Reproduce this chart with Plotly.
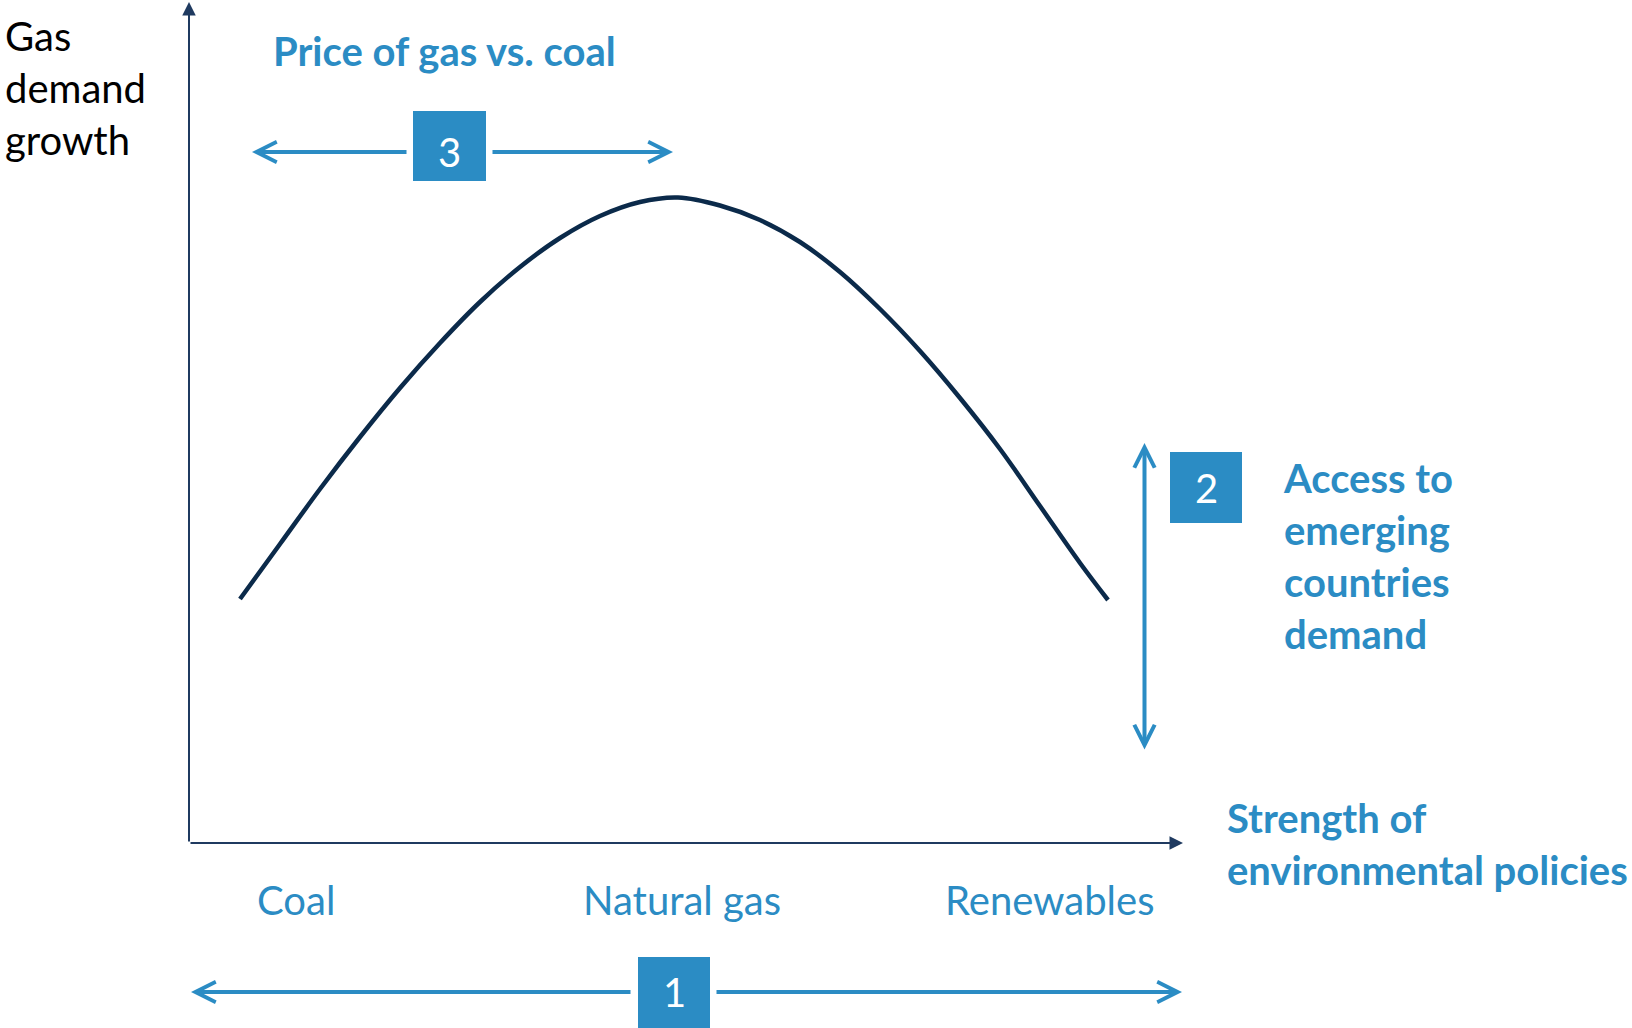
import plotly.graph_objects as go

# ---- data (units: 1 = distance along the diagram axes) ----
curve_x = [0.51, 0.91, 1.31, 1.71, 2.11, 2.51, 2.91, 3.31, 3.71, 4.11, 4.51, 4.89,
           5.31, 5.71, 6.11, 6.51, 6.91, 7.31, 7.71, 8.11, 8.51, 8.91, 9.19]
curve_y = [2.44, 2.99, 3.54, 4.06, 4.55, 5.00, 5.41, 5.76, 6.05, 6.27, 6.41, 6.455,
           6.375, 6.23, 6.01, 5.71, 5.34, 4.92, 4.45, 3.94, 3.37, 2.80, 2.43]

category_labels = ["Coal", "Natural gas", "Renewables"]
category_x = [1.07, 4.93, 8.60]

y_axis_title = "Gas<br>demand<br>growth"
x_axis_title = "Strength of<br>environmental policies"
driver_labels = ["Strength of environmental policies", "Access to<br>emerging<br>countries<br>demand", "Price of gas vs. coal"]
driver_numbers = ["1", "2", "3"]

BLUE = "#2B8CC4"
NAVY = "#0B2A4A"
AXIS = "#1F3A60"
FONT = "Lato"
FS = 40

fig = go.Figure()
fig.add_trace(go.Scatter(x=curve_x, y=curve_y, mode="lines",
                         line=dict(color=NAVY, width=4.5, shape="spline", smoothing=1.0),
                         hoverinfo="skip", showlegend=False))

ann = []
# axes with arrows
ann.append(dict(x=0, y=8.41, ax=0, ay=0, xref="x", yref="y", axref="x", ayref="y",
                showarrow=True, arrowhead=2, arrowwidth=2, arrowsize=1.35, arrowcolor=AXIS, text=""))
ann.append(dict(x=9.94, y=0, ax=0, ay=0, xref="x", yref="y", axref="x", ayref="y",
                showarrow=True, arrowhead=2, arrowwidth=2, arrowsize=1.35, arrowcolor=AXIS, text=""))

def blue_arrow(x, y, ax, ay, side="end"):
    return dict(x=x, y=y, ax=ax, ay=ay, xref="x", yref="y", axref="x", ayref="y",
                showarrow=True, arrowhead=5, arrowwidth=4, arrowsize=1, arrowcolor=BLUE,
                arrowside=side, text="")

# driver 3: horizontal arrow at top
ann.append(blue_arrow(0.63, 6.91, 2.19, 6.91))
ann.append(blue_arrow(4.84, 6.91, 3.02, 6.91))
# driver 1: horizontal arrow at bottom
ann.append(blue_arrow(0.02, -1.49, 4.43, -1.49))
ann.append(blue_arrow(9.93, -1.49, 5.26, -1.49))
# driver 2: vertical double arrow
ann.append(blue_arrow(9.555, 4.00, 9.555, 0.92, side="end+start"))

shapes = [
    dict(type="rect", xref="x", yref="y", x0=2.24, x1=2.97, y0=6.62, y1=7.32, fillcolor=BLUE, line=dict(width=0)),
    dict(type="rect", xref="x", yref="y", x0=9.81, x1=10.53, y0=3.20, y1=3.91, fillcolor=BLUE, line=dict(width=0)),
    dict(type="rect", xref="x", yref="y", x0=4.49, x1=5.21, y0=-2.5, y1=-1.14, fillcolor=BLUE, line=dict(width=0)),
]

num_pos = [(4.85, -1.49), (10.17, 3.555), (2.605, 6.91)]
for n, (nx, ny) in zip(driver_numbers, num_pos):
    ann.append(dict(x=nx, y=ny, xref="x", yref="y", text=n, showarrow=False,
                    font=dict(family=FONT, size=40, color="white"), xanchor="center", yanchor="middle"))

# texts
ann.append(dict(x=-1.86, y=7.55, xref="x", yref="y", text=y_axis_title, showarrow=False, align="left",
                font=dict(family=FONT, size=FS, color="black"), xanchor="left", yanchor="middle"))
ann.append(dict(x=0.82, y=7.92, xref="x", yref="y", text="<b>" + driver_labels[2] + "</b>", showarrow=False,
                font=dict(family=FONT, size=FS, color=BLUE), xanchor="left", yanchor="middle"))
ann.append(dict(x=10.92, y=2.87, xref="x", yref="y", text="<b>" + driver_labels[1] + "</b>", showarrow=False,
                align="left", font=dict(family=FONT, size=FS, color=BLUE), xanchor="left", yanchor="middle"))
ann.append(dict(x=10.36, y=-0.01, xref="x", yref="y", text="<b>" + x_axis_title + "</b>", showarrow=False,
                align="left", font=dict(family=FONT, size=FS, color=BLUE), xanchor="left", yanchor="middle"))
for lab, cx in zip(category_labels, category_x):
    ann.append(dict(x=cx, y=-0.57, xref="x", yref="y", text=lab, showarrow=False,
                    font=dict(family=FONT, size=FS, color=BLUE), xanchor="center", yanchor="middle"))

fig.update_layout(
    width=1632, height=1028,
    margin=dict(l=0, r=0, t=0, b=0),
    paper_bgcolor="white", plot_bgcolor="white",
    xaxis=dict(range=[-1.89, 14.43], visible=False, fixedrange=True),
    yaxis=dict(range=[-1.85, 8.43], visible=False, fixedrange=True),
    annotations=ann, shapes=shapes, showlegend=False,
)
fig.write_html("out.html", config={"displayModeBar": False},
               post_script="document.body.style.margin='0';document.body.style.overflow='hidden';")
